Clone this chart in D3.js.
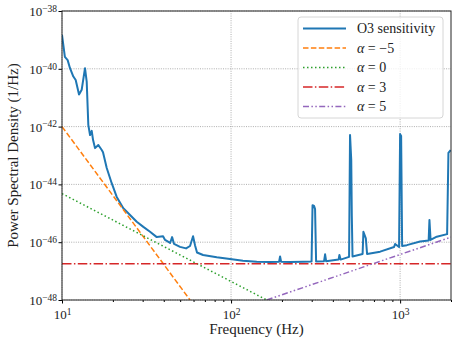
<!DOCTYPE html>
<html>
<head>
<meta charset="utf-8">
<script src="https://cdn.jsdelivr.net/npm/d3@7"></script>
<style>
  body { margin: 0; background: #fff; }
  svg text { font-family: "Liberation Serif", "DejaVu Serif", serif; fill: #222; }
</style>
</head>
<body>
<svg id="chart" width="457" height="344"></svg>
<script>
// O3 sensitivity curve (Hz, 1/Hz)
const o3Freq = [10.0, 10.4, 10.8, 11.15, 11.67, 12.05, 12.61, 13.08, 13.68, 14.0, 14.31, 14.65, 14.99, 15.26, 15.68,
  16.4, 17.18, 17.48, 18.39, 19.68, 21.07, 23.05, 25.26, 27.67, 30.28, 33.17, 36.35, 39.6, 40.7, 43.6, 44.8, 46.0,
  49.9, 54.2, 57.2, 59.6, 61.2, 62.9, 68.3, 82.3, 98.6, 117.7, 141.9, 170.2, 192.4, 195, 197.7, 223.5, 266.7,
  299.4, 303.4, 309.6, 314.0, 318.5, 355, 360, 365, 432.6, 437.5, 444.7, 499, 505.6, 514, 518, 523, 600, 606.6,
  626.9, 637.8, 762, 921, 934, 986, 1000, 1014, 1028, 1096, 1313, 1475, 1491, 1514, 1648, 1897, 1931, 1990];
const o3Psd = [1.5e-39, 2.6e-40, 2.0e-40, 1.05e-40, 5.4e-41, 4.1e-41, 1.3e-41, 1.9e-41, 1.05e-40, 3.6e-41, 1.15e-42,
  5.1e-43, 7.1e-43, 3.5e-43, 1.8e-43, 2.3e-43, 1.55e-43, 1.3e-43, 3.7e-44, 1.1e-44, 3.7e-45, 1.5e-45, 8.7e-46,
  5.1e-46, 3.4e-46, 2.3e-46, 1.5e-46, 1.6e-46, 1.2e-46, 9.4e-47, 1.5e-46, 8.7e-47, 6.9e-47, 6.1e-47, 7.4e-47,
  1.6e-46, 7.9e-47, 4.4e-47, 3.6e-47, 3.0e-47, 2.6e-47, 2.3e-47, 2.1e-47, 2.05e-47, 2.1e-47, 3.2e-47, 2.1e-47,
  2.05e-47, 2.1e-47, 2.15e-47, 1.9e-45, 1.8e-45, 1.4e-45, 2.15e-47, 2.2e-47, 3.8e-47, 2.2e-47, 2.5e-47, 3.6e-47,
  2.5e-47, 3.1e-47, 5.1e-43, 6.9e-44, 8.0e-46, 3.2e-47, 3.9e-47, 2.3e-46, 1.35e-46, 3.9e-47, 4.7e-47, 6.8e-47,
  8.7e-47, 6.8e-47, 5.5e-43, 4.7e-43, 7.4e-47, 7.9e-47, 1.05e-46, 1.15e-46, 5.9e-46, 1.2e-46, 1.55e-46, 1.9e-46,
  1.23e-43, 1.55e-43];

// power-law lines, end points
const powerLaws = ["α = −5", "α = 0", "α = 3", "α = 5"];
const plFreq = [[10, 57.2], [10, 162.6], [10, 2000], [162.6, 2000]];
const plPsd = [[1e-42, 1e-48], [4.8e-45, 1e-48], [1.78e-47, 1.78e-47], [1e-48, 1.5e-46]];
const plColors = ["#ff7f0e", "#2ca02c", "#d62728", "#9467bd"];
const plDash = ["5.5,2.4", "1.5,2.5", "9.5,2.4,1.5,2.4", "6,2.4,1.5,2.4,1.5,2.4"];

const xTicks = [10, 100, 1000];
const yTicks = [1e-48, 1e-46, 1e-44, 1e-42, 1e-40, 1e-38];

const margin = { left: 62, right: 6, top: 11, bottom: 44 };
const width = 457, height = 344;

const svg = d3.select("#chart");
const x = d3.scaleLog().domain([10, 2000]).range([margin.left, width - margin.right]);
const y = d3.scaleLog().domain([1e-48, 1e-38]).range([height - margin.bottom, margin.top]);

svg.append("defs").append("clipPath").attr("id", "clip")
  .append("rect")
  .attr("x", margin.left).attr("y", margin.top)
  .attr("width", x.range()[1] - margin.left)
  .attr("height", y.range()[0] - margin.top);

// grid
const grid = svg.append("g");
grid.selectAll("line.gx").data(xTicks).enter().append("line")
  .attr("x1", d => x(d)).attr("x2", d => x(d))
  .attr("y1", margin.top).attr("y2", y.range()[0])
  .attr("stroke", "#999").attr("stroke-width", 0.8).attr("stroke-dasharray", "1,1.3");
grid.selectAll("line.gy").data(yTicks).enter().append("line")
  .attr("y1", d => y(d)).attr("y2", d => y(d))
  .attr("x1", margin.left).attr("x2", x.range()[1])
  .attr("stroke", "#999").attr("stroke-width", 0.8).attr("stroke-dasharray", "1,1.3");

// power-law lines
const line = d3.line().x(d => x(d[0])).y(d => y(d[1]));
const plot = svg.append("g").attr("clip-path", "url(#clip)");

plot.append("path")
  .datum(o3Freq.map((f, i) => [f, o3Psd[i]]))
  .attr("d", line)
  .attr("fill", "none")
  .attr("stroke", "#1f77b4")
  .attr("stroke-width", 2)
  .attr("stroke-linejoin", "round");

powerLaws.forEach((name, i) => {
  plot.append("path")
    .datum(plFreq[i].map((f, j) => [f, plPsd[i][j]]))
    .attr("d", line)
    .attr("fill", "none")
    .attr("stroke", plColors[i])
    .attr("stroke-width", 1.5)
    .attr("stroke-dasharray", plDash[i]);
});

// axes
const xMinor = [];
[10, 100, 1000].forEach(b => { for (let k = 2; k <= 9; k++) if (b * k <= 2000) xMinor.push(b * k); });

svg.append("g")
  .attr("transform", `translate(0,${y.range()[0]})`)
  .call(d3.axisBottom(x).tickValues(xMinor).tickSize(2).tickFormat(""))
  .call(g => g.select(".domain").remove());
const xAxis = svg.append("g")
  .attr("transform", `translate(0,${y.range()[0]})`)
  .call(d3.axisBottom(x).tickValues(xTicks).tickSize(3.5).tickFormat(""));
xAxis.select(".domain").remove();
xAxis.selectAll(".tick").append("text")
  .attr("y", 19).attr("text-anchor", "middle").attr("fill", "#222")
  .style("font-size", "13px")
  .each(function (d) {
    const t = d3.select(this);
    t.append("tspan").text("10");
    t.append("tspan").attr("dy", "-0.45em").style("font-size", "9.5px").text(Math.round(Math.log10(d)));
  });

const yAxis = svg.append("g")
  .attr("transform", `translate(${margin.left},0)`)
  .call(d3.axisLeft(y).tickValues(yTicks).tickSize(3.5).tickFormat(""));
yAxis.select(".domain").remove();
yAxis.selectAll(".tick").append("text")
  .attr("x", -5).attr("y", 4.5).attr("text-anchor", "end").attr("fill", "#222")
  .style("font-size", "13px")
  .each(function (d) {
    const t = d3.select(this);
    t.append("tspan").text("10");
    t.append("tspan").attr("dy", "-0.45em").style("font-size", "9.5px")
      .text("−" + Math.abs(Math.round(Math.log10(d))));
  });

// frame
svg.append("rect")
  .attr("x", margin.left).attr("y", margin.top)
  .attr("width", x.range()[1] - margin.left)
  .attr("height", y.range()[0] - margin.top)
  .attr("fill", "none").attr("stroke", "#222").attr("stroke-width", 1);

// labels
svg.append("text")
  .attr("x", (margin.left + x.range()[1]) / 2).attr("y", 334)
  .attr("text-anchor", "middle").style("font-size", "15px")
  .text("Frequency (Hz)");
svg.append("text")
  .attr("transform", `translate(18,${(margin.top + y.range()[0]) / 2}) rotate(-90)`)
  .attr("text-anchor", "middle").style("font-size", "15px")
  .text("Power Spectral Density (1/Hz)");

// legend
const legendNames = ["O3 sensitivity"].concat(powerLaws);
const legendColors = ["#1f77b4"].concat(plColors);
const legendDash = [null].concat(plDash);
const legend = svg.append("g");
legend.append("rect")
  .attr("x", 298).attr("y", 17).attr("width", 145).attr("height", 101)
  .attr("rx", 3)
  .attr("fill", "#fff").attr("fill-opacity", 0.8)
  .attr("stroke", "#ccc").attr("stroke-width", 0.8);
legendNames.forEach((name, i) => {
  const ly = 28.5 + i * 19.5;
  legend.append("line")
    .attr("x1", 303).attr("x2", 346).attr("y1", ly).attr("y2", ly)
    .attr("stroke", legendColors[i]).attr("stroke-width", i === 0 ? 2 : 1.5)
    .attr("stroke-dasharray", legendDash[i]);
  const t = legend.append("text").attr("x", 357).attr("y", ly + 4.5).style("font-size", "14px");
  if (i === 0) {
    t.text(name);
  } else {
    t.append("tspan").style("font-style", "italic").text("α");
    t.append("tspan").text(name.slice(1));
  }
});
</script>
</body>
</html>
